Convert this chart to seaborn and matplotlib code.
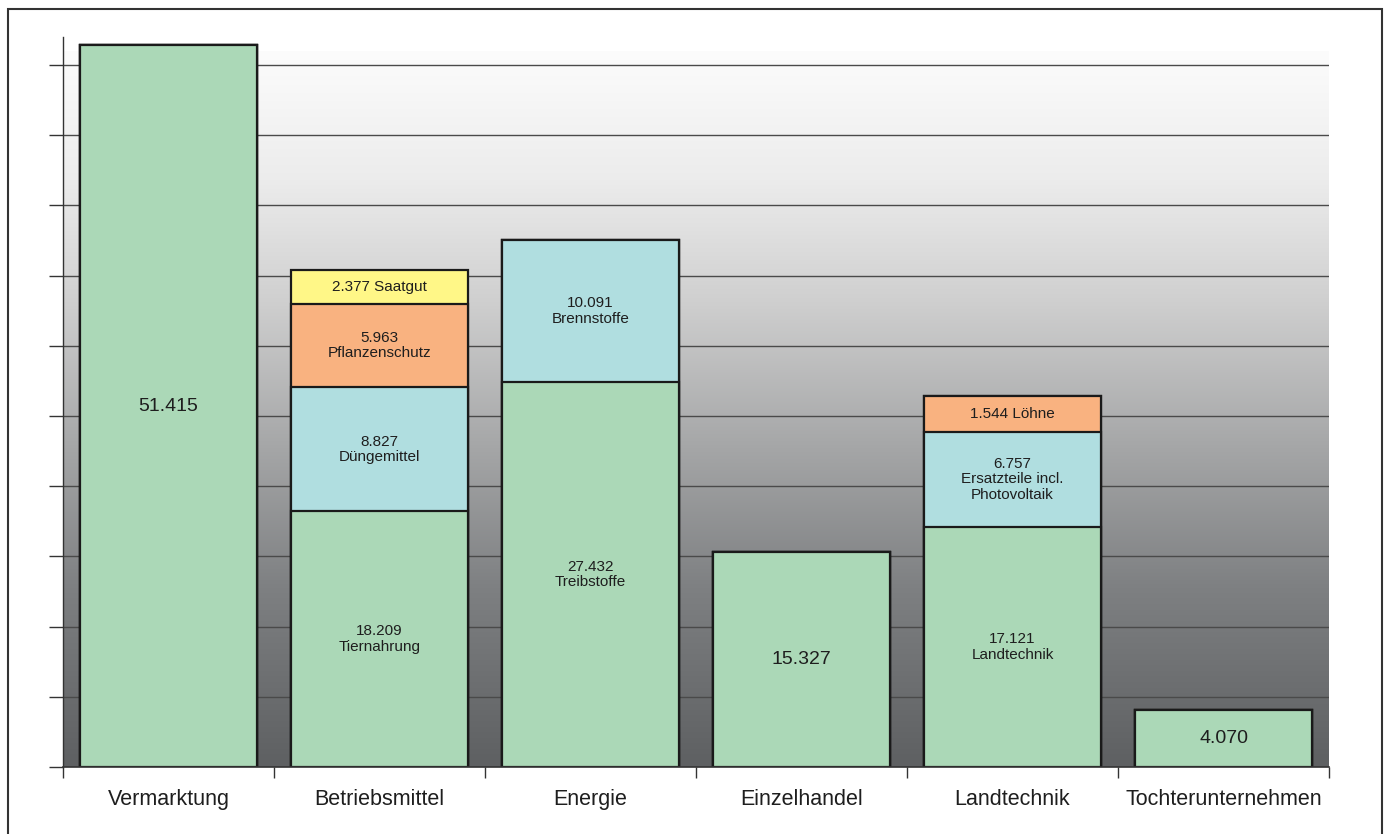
import numpy as np
import pandas as pd
import matplotlib
matplotlib.use("Agg")
import matplotlib.pyplot as plt
import seaborn as sns
from matplotlib.colors import LinearSegmentedColormap
from matplotlib.patches import Rectangle
from matplotlib import font_manager

#####################################################################
# Data
categories = ['Vermarktung', 'Betriebsmittel', 'Energie', 'Einzelhandel',
              'Landtechnik', 'Tochterunternehmen']

# stacked layers, bottom to top
layer_green = [51.415, 18.209, 27.432, 15.327, 17.121, 4.070]
layer_blue = [0, 8.827, 10.091, 0, 6.757, 0]
layer_orange = [0, 5.963, 0, 0, 2.55, 0]   # Löhne segment is drawn taller than its 1.544 label
layer_yellow = [0, 2.377, 0, 0, 0, 0]

labels_green = ['51.415', '18.209\nTiernahrung', '27.432\nTreibstoffe', '15.327',
                '17.121\nLandtechnik', '4.070']
labels_blue = ['', '8.827\nDüngemittel', '10.091\nBrennstoffe', '',
               '6.757\nErsatzteile incl.\nPhotovoltaik', '']
labels_orange = ['', '5.963\nPflanzenschutz', '', '', '1.544 Löhne', '']
labels_yellow = ['', '2.377 Saatgut', '', '', '', '']

yticks = list(range(0, 51, 5))

colors = {
    'green': '#abd8b7',
    'blue': '#b0dee0',
    'orange': '#f9b280',
    'yellow': '#fff787',
}

#####################################################################
# Long-form table
layers = [('green', layer_green, labels_green),
          ('blue', layer_blue, labels_blue),
          ('orange', layer_orange, labels_orange),
          ('yellow', layer_yellow, labels_yellow)]
rows = []
for name, vals, labs in layers:
    for cat, v, lab in zip(categories, vals, labs):
        rows.append({'Kategorie': cat, 'Layer': name, 'Wert': v, 'Label': lab})
df = pd.DataFrame(rows)
df['Oben'] = df.groupby('Kategorie', sort=False)['Wert'].cumsum()
df['Unten'] = df['Oben'] - df['Wert']

#####################################################################
sns.set_theme(style="ticks")
avail = {f.name for f in font_manager.fontManager.ttflist}
fam = 'Liberation Sans Narrow' if 'Liberation Sans Narrow' in avail else 'Liberation Sans'
narrow = fam == 'Liberation Sans Narrow'
plt.rcParams['font.family'] = [fam, 'DejaVu Sans']

fig = plt.figure(figsize=(13.89, 8.34), dpi=100)
ax = fig.add_axes([63 / 1389, 67 / 834, (1329 - 63) / 1389, (797 - 67) / 834])

# gradient background
cmap = LinearSegmentedColormap.from_list(
    'bg', [(0.0, '#5e6062'), (0.25, '#7e8082'), (0.45, '#a6a7a8'),
           (0.65, '#cfcfcf'), (0.82, '#ececec'), (1.0, '#fcfcfc')])
grad = np.linspace(0, 1, 256).reshape(-1, 1)
ax.imshow(grad, extent=[-0.5, 5.5, 0, 51], origin='lower', aspect='auto',
          cmap=cmap, zorder=0, interpolation='bicubic')

# stacked bars: draw cumulative tops from the top layer down
for name, _, _ in reversed(layers):
    sub = df[df['Layer'] == name]
    sns.barplot(data=sub, x='Kategorie', y='Oben', order=categories, ax=ax,
                color=colors[name], saturation=1, width=0.835,
                edgecolor='#1a1a1a', linewidth=1.6, zorder=2)

# labels
for _, r in df.iterrows():
    if r['Wert'] <= 0 or not r['Label']:
        continue
    xi = categories.index(r['Kategorie'])
    single = df[(df['Kategorie'] == r['Kategorie']) & (df['Wert'] > 0)].shape[0] == 1
    fs = 16 if single else 13
    if not narrow:
        fs -= 2
    ax.text(xi, (r['Oben'] + r['Unten']) / 2, r['Label'], ha='center', va='center',
            fontsize=fs, color='#1e1e1e', zorder=5, linespacing=1.15)

ax.set_xlim(-0.5, 5.5)
ax.set_ylim(0, 52)
ax.set_yticks(yticks)
ax.set_yticklabels([])
ax.yaxis.grid(True, color='#4a4a4a', linewidth=1.0)
ax.set_axisbelow(True)
for gl in ax.get_ygridlines():
    gl.set_zorder(1)

ax.set_xticks(range(len(categories)))
ax.set_xticklabels(categories, fontsize=18 if narrow else 15.5, color='#1e1e1e')
ax.set_xticks(np.arange(-0.5, 6, 1), minor=True)
ax.tick_params(axis='x', which='major', length=0, pad=16)
ax.tick_params(axis='x', which='minor', length=8, width=1.0, color='#333333', direction='out')
ax.tick_params(axis='y', length=10, width=1.0, color='#333333', direction='out')
ax.set_xlabel('')
ax.set_ylabel('')

sns.despine(ax=ax, top=True, right=True)
ax.spines['left'].set_color('#333333')
ax.spines['bottom'].set_color('#333333')
ax.spines['left'].set_linewidth(1.0)
ax.spines['bottom'].set_linewidth(1.2)

# outer frame
fig.add_artist(Rectangle((8 / 1389, -0.02), (1382 - 8) / 1389, 1.0092,
                         transform=fig.transFigure, fill=False,
                         edgecolor='#333333', linewidth=1.5))

fig.savefig('out.png', dpi=100, facecolor='white')
